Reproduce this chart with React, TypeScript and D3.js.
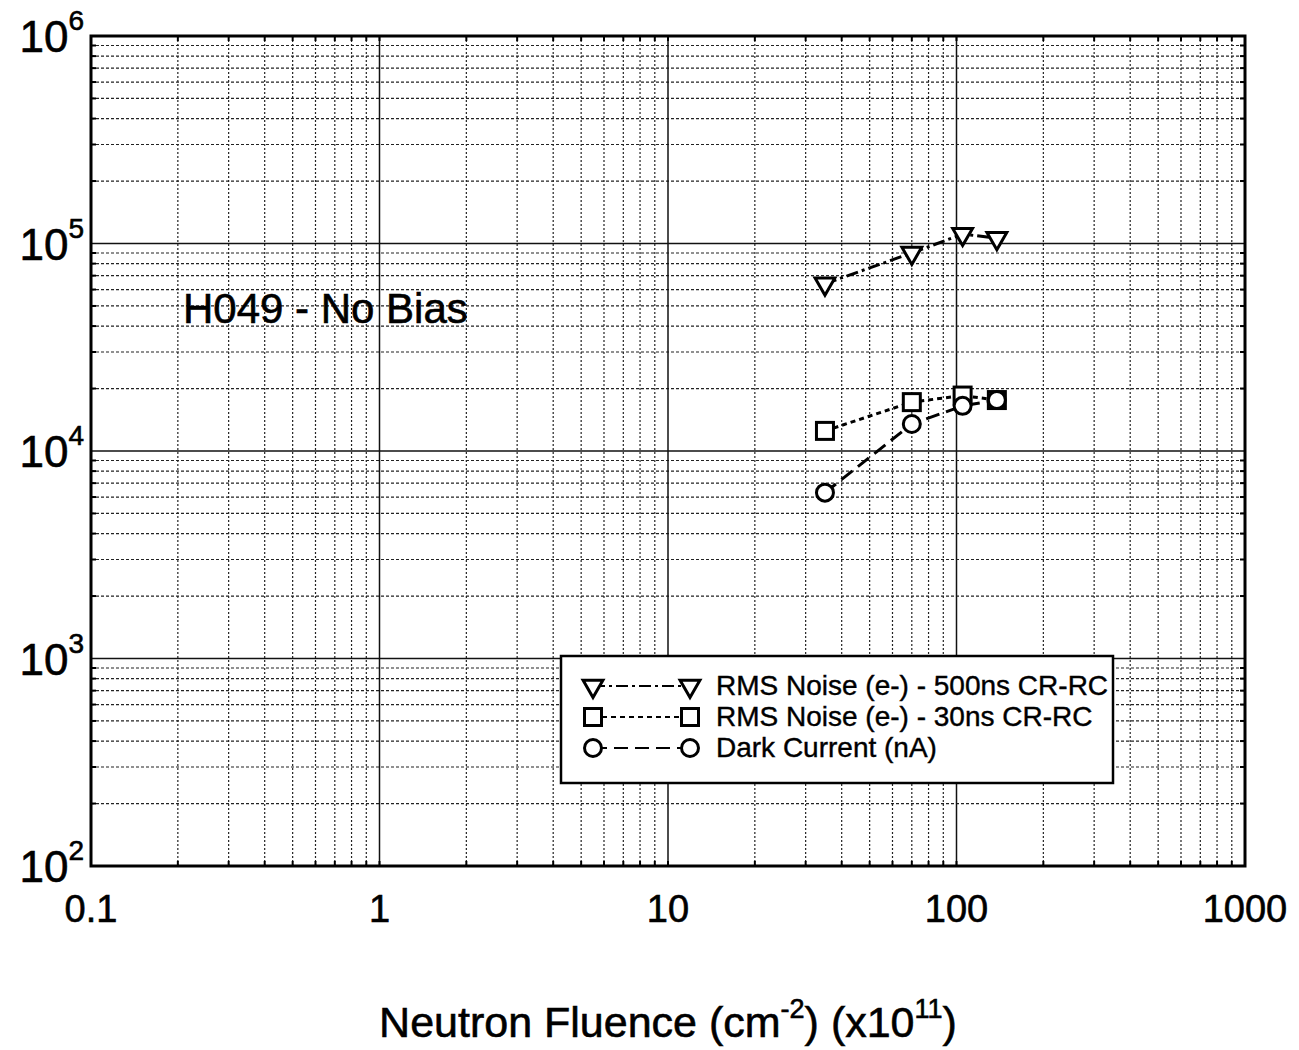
import React, { useEffect, useRef } from "react";
import * as d3 from "d3";

const WIDTH = 1299;
const HEIGHT = 1050;

// fluence (x10^11 cm^-2)
const fluence = [35, 70, 105, 138];
const noise500 = [64000, 90000, 111000, 106000];
const noise30 = [12500, 17200, 18500, 17600];
const darkCurrent = [6300, 13500, 16500, 17600];

const xTicks = [0.1, 1, 10, 100, 1000];
const xTickLabels = ["0.1", "1", "10", "100", "1000"];
const yExponents = [2, 3, 4, 5, 6];

const seriesNames = [
  "RMS Noise (e-) - 500ns CR-RC",
  "RMS Noise (e-) - 30ns CR-RC",
  "Dark Current (nA)",
];

const FONT = "'Liberation Sans', Arial, sans-serif";

function App() {
  const ref = useRef<SVGSVGElement>(null);

  useEffect(() => {
    const margin = { top: 36, right: 54, bottom: 184, left: 91 };
    const width = WIDTH - margin.left - margin.right;
    const height = HEIGHT - margin.top - margin.bottom;

    const root = d3.select(ref.current);
    root.selectAll("*").remove();
    const svg = root
      .append("g")
      .attr("transform", `translate(${margin.left},${margin.top})`);

    const x = d3.scaleLog().domain([0.1, 1000]).range([0, width]);
    const y = d3.scaleLog().domain([100, 1e6]).range([height, 0]);

    // minor grid
    const minorX: number[] = [];
    for (let d = 0.1; d < 1000; d *= 10)
      for (let k = 2; k <= 9; k++) minorX.push(d * k);
    const minorY: number[] = [];
    for (let d = 100; d < 1e6; d *= 10)
      for (let k = 2; k <= 9; k++) minorY.push(d * k);

    svg
      .append("g")
      .selectAll("line")
      .data(minorX)
      .join("line")
      .attr("x1", (d) => x(d))
      .attr("x2", (d) => x(d))
      .attr("y1", 0)
      .attr("y2", height)
      .attr("stroke", "#222")
      .attr("stroke-width", 1.2)
      .attr("stroke-dasharray", "2,2");

    svg
      .append("g")
      .selectAll("line")
      .data(minorY)
      .join("line")
      .attr("x1", 0)
      .attr("x2", width)
      .attr("y1", (d) => y(d))
      .attr("y2", (d) => y(d))
      .attr("stroke", "#222")
      .attr("stroke-width", 1.2)
      .attr("stroke-dasharray", "3,2");

    // major grid
    svg
      .append("g")
      .selectAll("line")
      .data(xTicks)
      .join("line")
      .attr("x1", (d) => x(d))
      .attr("x2", (d) => x(d))
      .attr("y1", 0)
      .attr("y2", height)
      .attr("stroke", "#111")
      .attr("stroke-width", 1.5);

    svg
      .append("g")
      .selectAll("line")
      .data(yExponents)
      .join("line")
      .attr("x1", 0)
      .attr("x2", width)
      .attr("y1", (d) => y(10 ** d))
      .attr("y2", (d) => y(10 ** d))
      .attr("stroke", "#111")
      .attr("stroke-width", 1.5);

    // small ticks on the frame
    const tk = svg.append("g").attr("stroke", "#000").attr("stroke-width", 2);
    minorX.concat(xTicks).forEach((d) => {
      tk.append("line").attr("x1", x(d)).attr("x2", x(d)).attr("y1", 0).attr("y2", 5);
      tk.append("line").attr("x1", x(d)).attr("x2", x(d)).attr("y1", height).attr("y2", height - 5);
    });
    minorY.forEach((d) => {
      tk.append("line").attr("y1", y(d)).attr("y2", y(d)).attr("x1", 0).attr("x2", 5);
      tk.append("line").attr("y1", y(d)).attr("y2", y(d)).attr("x1", width).attr("x2", width - 5);
    });

    // frame
    svg
      .append("rect")
      .attr("width", width)
      .attr("height", height)
      .attr("fill", "none")
      .attr("stroke", "#000")
      .attr("stroke-width", 3);

    // x tick labels
    svg
      .append("g")
      .selectAll("text")
      .data(xTicks)
      .join("text")
      .attr("x", (d) => x(d))
      .attr("y", height + 56)
      .attr("text-anchor", "middle")
      .attr("font-family", FONT)
      .attr("font-size", 38)
      .attr("stroke", "#000")
      .attr("stroke-width", 0.6)
      .text((d, i) => xTickLabels[i]);

    // y tick labels
    const yl = svg
      .append("g")
      .selectAll("text")
      .data(yExponents)
      .join("text")
      .attr("x", -7)
      .attr("y", (d) => y(10 ** d) + 16)
      .attr("text-anchor", "end")
      .attr("font-family", FONT)
      .attr("font-size", 44)
      .attr("stroke", "#000")
      .attr("stroke-width", 0.6);
    yl.append("tspan").text("10");
    yl.append("tspan")
      .attr("dy", -22)
      .attr("font-size", 28)
      .text((d) => String(d));

    // axis title
    const title = svg
      .append("text")
      .attr("x", width / 2)
      .attr("y", 1037 - margin.top)
      .attr("text-anchor", "middle")
      .attr("font-family", FONT)
      .attr("font-size", 43)
      .attr("stroke", "#000")
      .attr("stroke-width", 0.6);
    title.append("tspan").text("Neutron Fluence (cm");
    title.append("tspan").attr("dy", -19).attr("font-size", 27).text("-2");
    title.append("tspan").attr("dy", 19).text(") (x10");
    title.append("tspan").attr("dy", -19).attr("font-size", 27).text("11");
    title.append("tspan").attr("dy", 19).text(")");

    svg
      .append("text")
      .attr("x", 183 - margin.left)
      .attr("y", 323 - margin.top)
      .attr("font-family", FONT)
      .attr("font-size", 42)
      .attr("stroke", "#000")
      .attr("stroke-width", 0.6)
      .text("H049 - No Bias");

    const triangle = d3.symbol().type(d3.symbolTriangle).size(170);
    const series = [
      { vals: noise500, dash: "12,4,3,4", shape: "tri" },
      { vals: noise30, dash: "5,4", shape: "sq" },
      { vals: darkCurrent, dash: "14,7", shape: "circ" },
    ];

    const drawMarker = (g: any, shape: string, cx: number, cy: number) => {
      if (shape === "tri") {
        g.append("path")
          .attr("d", triangle())
          .attr("transform", `translate(${cx},${cy}) rotate(180)`)
          .attr("fill", "white")
          .attr("stroke", "#000")
          .attr("stroke-width", 3);
      } else if (shape === "sq") {
        g.append("rect")
          .attr("x", cx - 8.5)
          .attr("y", cy - 8.5)
          .attr("width", 17)
          .attr("height", 17)
          .attr("fill", "white")
          .attr("stroke", "#000")
          .attr("stroke-width", 3);
      } else {
        g.append("circle")
          .attr("cx", cx)
          .attr("cy", cy)
          .attr("r", 8.5)
          .attr("fill", "white")
          .attr("stroke", "#000")
          .attr("stroke-width", 3);
      }
    };

    const line = d3
      .line<number>()
      .x((d, i) => x(fluence[i]))
      .y((d) => y(d));

    series.forEach((s) => {
      svg
        .append("path")
        .datum(s.vals)
        .attr("fill", "none")
        .attr("stroke", "#000")
        .attr("stroke-width", 3)
        .attr("stroke-dasharray", s.dash)
        .attr("d", line);
    });
    series.forEach((s) => {
      const g = svg.append("g");
      s.vals.forEach((v, i) => drawMarker(g, s.shape, x(fluence[i]), y(v)));
    });

    // legend
    const lg = svg
      .append("g")
      .attr("transform", `translate(${561 - margin.left},${656 - margin.top})`);
    lg.append("rect")
      .attr("width", 552)
      .attr("height", 127)
      .attr("fill", "white")
      .attr("stroke", "#000")
      .attr("stroke-width", 2.5);
    series.forEach((s, i) => {
      const cy = 30 + i * 31;
      lg.append("line")
        .attr("x1", 32)
        .attr("x2", 129)
        .attr("y1", cy)
        .attr("y2", cy)
        .attr("stroke", "#000")
        .attr("stroke-width", 2)
        .attr("stroke-dasharray", s.dash);
      drawMarker(lg, s.shape, 32, cy);
      drawMarker(lg, s.shape, 129, cy);
      lg.append("text")
        .attr("x", 155)
        .attr("y", cy + 9)
        .attr("font-family", FONT)
        .attr("font-size", 28)
        .attr("stroke", "#000")
        .attr("stroke-width", 0.4)
        .text(seriesNames[i]);
    });
  }, []);

  return (
    <svg
      ref={ref}
      width={WIDTH}
      height={HEIGHT}
      style={{ position: "absolute", left: 0, top: 0, background: "white" }}
    />
  );
}

export default App;
